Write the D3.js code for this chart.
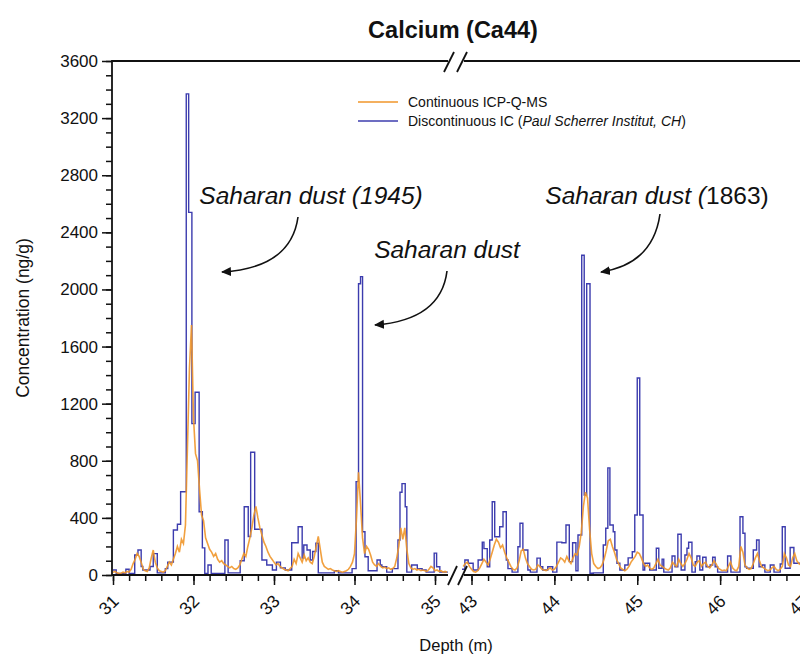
<!DOCTYPE html>
<html><head><meta charset="utf-8">
<script src="https://cdn.jsdelivr.net/npm/d3@7"></script>
<style>
body{margin:0;background:#fff}
svg{display:block}
text{font-family:"Liberation Sans",Arial,Helvetica,sans-serif;fill:#111}
</style>
</head><body><svg id="chart" width="800" height="658"></svg>
<script>
// ---------- data ----------
const chartTitle = "Calcium (Ca44)";
const yLabel = "Concentration (ng/g)";
const xLabel = "Depth (m)";
const yTicks = [0, 400, 800, 1200, 1600, 2000, 2400, 2800, 3200, 3600];
const xTicksLeft = [31, 32, 33, 34, 35];
const xTicksRight = [43, 44, 45, 46, 47];
const seriesNames = ["Continuous ICP-Q-MS", "Discontinuous IC"];

// Discontinuous IC (step samples): start depth of each sample and its value
const blueLeftDepth = [31.00,31.04,31.16,31.20,31.27,31.31,31.35,31.37,31.46,31.50,31.55,31.65,31.68,31.75,31.80,31.84,31.91,31.94,31.98,32.02,32.07,32.11,32.14,32.18,32.22,32.39,32.43,32.58,32.63,32.68,32.71,32.76,32.85,32.91,32.98,33.03,33.08,33.14,33.22,33.30,33.35,33.37,33.41,33.45,33.48,33.52,33.55,33.75,33.80,33.97,34.02,34.05,34.075,34.10,34.13,34.17,34.28,34.32,34.34,34.40,34.47,34.54,34.565,34.59,34.63,34.65,34.71,34.78,34.84,34.89,34.99,35.02,35.06,35.16];
const blueLeftConc  = [35,10,40,10,140,175,60,35,60,150,15,45,90,315,355,583,3370,2540,1060,1280,443,190,10,70,10,245,15,100,478,270,860,320,105,70,35,90,50,35,226,338,118,210,175,105,165,222,15,30,15,45,654,2040,2090,303,128,30,105,70,58,20,45,245,580,640,478,20,70,45,35,20,153,58,20,20];
const blueRightDepth = [42.88,42.92,42.96,43.02,43.08,43.13,43.15,43.19,43.22,43.25,43.28,43.34,43.38,43.42,43.44,43.49,43.56,43.585,43.62,43.68,43.71,43.79,43.83,43.86,43.92,43.98,44.03,44.09,44.14,44.18,44.22,44.26,44.285,44.33,44.36,44.39,44.43,44.47,44.59,44.62,44.645,44.67,44.71,44.73,44.755,44.79,44.85,44.89,44.94,44.97,45.00,45.03,45.07,45.09,45.15,45.23,45.26,45.30,45.32,45.42,45.455,45.49,45.53,45.575,45.60,45.62,45.66,45.70,45.72,45.755,45.79,45.83,45.88,45.91,45.94,45.97,46.09,46.13,46.24,46.275,46.30,46.32,46.40,46.44,46.47,46.51,46.54,46.605,46.65,46.725,46.75,46.785,46.845,46.89,46.94,47.05];
const blueRightConc  = [40,105,82,35,105,230,185,58,245,513,268,338,443,105,45,20,198,362,175,35,20,118,58,35,58,20,230,226,350,94,226,30,280,2240,560,2040,12,15,210,327,750,350,303,175,82,35,70,120,163,420,1380,420,35,82,35,187,47,111,20,133,58,285,35,140,187,229,20,93,133,35,124,58,70,124,58,20,133,20,408,292,58,47,175,245,58,70,20,70,20,77,338,47,193,82,82,82];

// Continuous ICP-Q-MS: regularly sampled every 0.025 m
const orangeStep = 0.025;
const orangeLeftStart = 31.0;
const orangeLeftConc = [20,25,15,10,12,20,15,25,20,40,80,110,150,130,90,40,30,25,50,120,175,90,50,30,25,20,30,60,90,70,110,150,200,160,250,220,350,900,1450,1750,1100,850,800,600,420,380,260,220,180,160,130,150,110,90,100,80,70,60,50,60,45,40,50,70,110,150,130,200,260,330,420,480,400,330,280,230,200,160,130,110,90,70,80,60,50,40,35,30,45,60,110,80,150,120,90,140,100,120,90,80,130,200,270,180,90,60,50,40,45,35,30,25,30,25,20,25,30,40,60,90,150,400,720,500,260,150,200,180,140,90,70,60,80,60,50,55,45,50,40,45,60,120,200,330,250,330,180,80,50,40,45,35,40,30,35,30,25,40,60,50,30,35,25,30,20,25,20];
const orangeRightStart = 42.9;
const orangeRightConc = [60,80,90,60,40,25,20,30,50,80,110,90,70,110,160,210,250,230,190,210,160,120,90,60,40,35,50,100,170,180,120,80,60,40,35,40,70,60,40,35,30,40,50,35,40,60,90,120,110,90,130,100,80,120,150,140,200,300,480,580,540,320,150,80,60,45,50,70,110,170,240,250,200,160,110,80,50,40,30,40,60,90,110,130,160,150,120,80,60,70,50,40,50,80,110,70,60,50,40,35,50,90,70,60,110,80,60,80,110,150,120,70,60,90,100,60,80,90,60,50,70,100,80,50,40,30,35,30,60,90,50,35,30,60,200,160,70,50,40,45,80,120,150,100,60,50,40,30,35,50,60,40,30,40,60,150,120,70,60,120,150,100,80,70,60];

const annotations = [
  {parts:[["Saharan dust (1945)","italic"]], cx:311, y:204, from:[298,217], ctrl:[291,268], to:[222,272]},
  {parts:[["Saharan dust","italic"]], cx:447, y:258, from:[447,271], ctrl:[441,320], to:[375,325]},
  {parts:[["Saharan dust (","italic"],["1863","normal"],[")","normal"]], cx:657, y:204, from:[660,214], ctrl:[653,264], to:[601,272]}
];

// ---------- layout ----------
const svg = d3.select("#chart");
const C_OR = "#f0962a", C_BL = "#3c3cae";
const FF = '"Liberation Sans",Arial,Helvetica,sans-serif';
const y = d3.scaleLinear().domain([0, 3600]).range([575, 61]);
const xL = d3.scaleLinear().domain([31, 35]).range([113, 435]);
const xR = d3.scaleLinear().domain([43, 47]).range([471.5, 803]);

const defs = svg.append("defs");
defs.append("clipPath").attr("id","clipL").append("rect").attr("x",112).attr("y",40).attr("width",336).attr("height",536);
defs.append("clipPath").attr("id","clipR").append("rect").attr("x",462).attr("y",40).attr("width",340).attr("height",536);
defs.append("marker").attr("id","arr").attr("viewBox","0 0 10 10").attr("refX",9).attr("refY",5)
  .attr("markerWidth",10).attr("markerHeight",10).attr("markerUnits","userSpaceOnUse").attr("orient","auto")
  .append("path").attr("d","M0,0.5 L10,5 L0,9.5 Z").attr("fill","#111");

// data paths
function stepData(ds, vs){ return ds.map((d,i)=>[d, vs[i]]); }
function regData(start, vs){ return vs.map((v,i)=>[start + i*orangeStep, v]); }
function drawPanel(x, clip, bd, bv, os, ov){
  const g = svg.append("g").attr("clip-path", `url(#${clip})`);
  g.append("path").datum(stepData(bd,bv))
    .attr("d", d3.line().x(d=>x(d[0])).y(d=>y(d[1])).curve(d3.curveStepAfter))
    .attr("fill","none").attr("stroke",C_BL).attr("stroke-width",1.4);
  g.append("path").datum(regData(os,ov))
    .attr("d", d3.line().x(d=>x(d[0])).y(d=>y(d[1])))
    .attr("fill","none").attr("stroke",C_OR).attr("stroke-width",1.6).attr("stroke-opacity",0.9);
}
drawPanel(xL, "clipL", blueLeftDepth, blueLeftConc, orangeLeftStart, orangeLeftConc);
drawPanel(xR, "clipR", blueRightDepth, blueRightConc, orangeRightStart, orangeRightConc);

// axes
const axG = svg.append("g").attr("stroke","#111").attr("stroke-width",1.8).attr("fill","none");
axG.append("line").attr("x1",112).attr("x2",112).attr("y1",60).attr("y2",576);
axG.append("line").attr("x1",112).attr("x2",448).attr("y1",575).attr("y2",575);
axG.append("line").attr("x1",464).attr("x2",800).attr("y1",575).attr("y2",575);
axG.append("line").attr("x1",112).attr("x2",448).attr("y1",61).attr("y2",61);
axG.append("line").attr("x1",464).attr("x2",800).attr("y1",61).attr("y2",61);
// break marks
axG.append("line").attr("x1",448).attr("y1",585).attr("x2",457).attr("y2",566);
axG.append("line").attr("x1",458).attr("y1",585).attr("x2",467).attr("y2",566);
axG.append("line").attr("x1",444).attr("y1",72).attr("x2",454).attr("y2",52);
axG.append("line").attr("x1",457).attr("y1",72).attr("x2",467).attr("y2",52);

// y ticks
const yMinor = d3.range(0, 3601, 100);
const yAx = svg.append("g").attr("transform","translate(112,0)");
yAx.call(d3.axisLeft(y).tickValues(yMinor).tickSize(6).tickFormat(""));
yAx.select(".domain").remove();
const yAxM = svg.append("g").attr("transform","translate(112,0)");
yAxM.call(d3.axisLeft(y).tickValues(yTicks).tickSize(10).tickPadding(4).tickFormat(d3.format("d")));
yAxM.select(".domain").remove();
yAxM.attr("font-size",null).attr("font-family",null);
yAxM.selectAll(".tick text").attr("fill","#111").style("font-size","17px").style("font-family",FF);

// x ticks
function xAxis(x, ticks, minor){
  const gm = svg.append("g").attr("transform","translate(0,575)");
  gm.call(d3.axisBottom(x).tickValues(minor).tickSize(6).tickFormat(""));
  gm.select(".domain").remove();
  const g = svg.append("g").attr("transform","translate(0,575)");
  g.call(d3.axisBottom(x).tickValues(ticks).tickSize(10).tickFormat(d3.format("d")));
  g.select(".domain").remove();
  g.selectAll(".tick text").attr("fill","#111").style("font-size","17.5px").style("font-family",FF)
    .attr("text-anchor","end").attr("y",0).attr("dy","0.35em")
    .attr("transform","translate(2,23) rotate(-45)");
}
xAxis(xL, xTicksLeft, d3.range(0,21).map(i=>31+i*0.2));
xAxis(xR, xTicksRight, d3.range(0,21).map(i=>43+i*0.2));
svg.selectAll(".tick line").attr("stroke","#111").attr("stroke-width",1.5);

// titles
svg.append("text").attr("x",453).attr("y",38).attr("text-anchor","middle")
  .attr("font-size",23.5).attr("font-weight","bold").text(chartTitle);
svg.append("text").attr("x",456).attr("y",651).attr("text-anchor","middle")
  .attr("font-size",16.5).text(xLabel);
svg.append("text").attr("transform","translate(29,318) rotate(-90)").attr("text-anchor","middle")
  .attr("font-size",17.5).text(yLabel);

// legend
const lg = svg.append("g");
lg.append("line").attr("x1",358).attr("x2",398).attr("y1",102).attr("y2",102).attr("stroke",C_OR).attr("stroke-width",1.4);
lg.append("line").attr("x1",358).attr("x2",398).attr("y1",121).attr("y2",121).attr("stroke",C_BL).attr("stroke-width",1.4);
lg.append("text").attr("x",408).attr("y",107).attr("font-size",14).text(seriesNames[0]);
const t2 = lg.append("text").attr("x",408).attr("y",126).attr("font-size",14);
t2.append("tspan").text(seriesNames[1] + " (");
t2.append("tspan").attr("font-style","italic").text("Paul Scherrer Institut, CH");
t2.append("tspan").text(")");

// annotations
annotations.forEach(a=>{
  const t = svg.append("text").attr("x",a.cx).attr("y",a.y).attr("text-anchor","middle").attr("font-size",24.5);
  a.parts.forEach(p=>t.append("tspan").attr("font-style",p[1]).text(p[0]));
  const p = d3.path(); p.moveTo(a.from[0],a.from[1]); p.quadraticCurveTo(a.ctrl[0],a.ctrl[1],a.to[0],a.to[1]);
  svg.append("path").attr("d",p.toString()).attr("fill","none").attr("stroke","#111").attr("stroke-width",1.6)
    .attr("marker-end","url(#arr)");
});
</script>
</body></html>
